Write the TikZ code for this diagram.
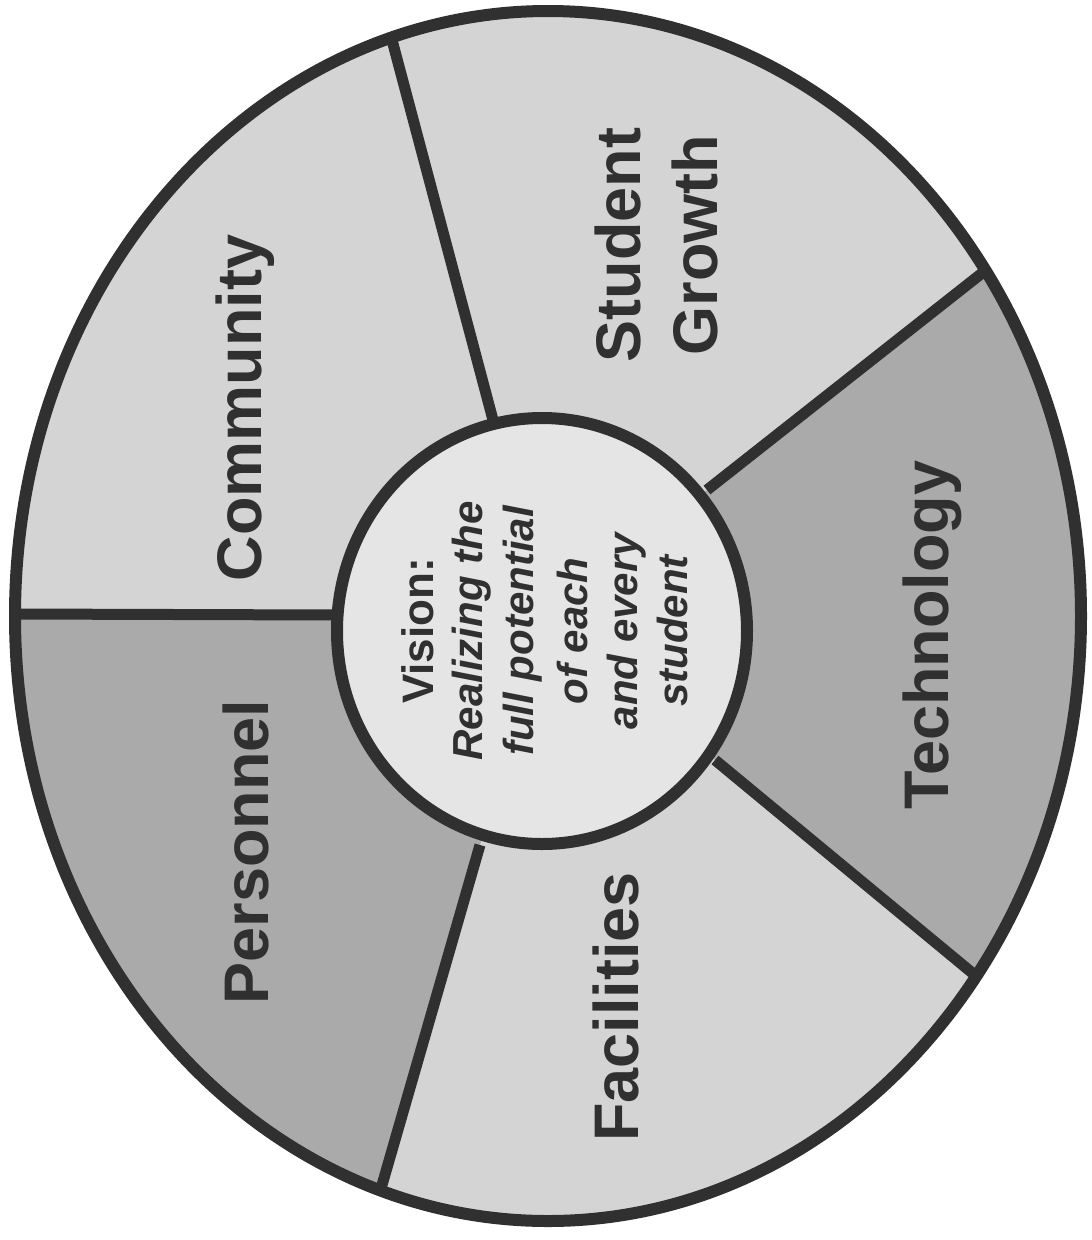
\documentclass[tikz,border=0pt]{standalone}
\usepackage{fontspec}
\setmainfont{Liberation Sans}
\definecolor{lightsec}{RGB}{212,212,212}
\definecolor{darksec}{RGB}{170,170,170}
\definecolor{innerfill}{RGB}{229,229,229}
\definecolor{ink}{RGB}{48,48,48}
\begin{document}
\begin{tikzpicture}[x=1pt,y=-1pt,
  border/.style={draw=ink, line width=12pt},
  divider/.style={draw=ink, line width=11pt},
  sectorlabel/.style={rotate=90, anchor=base, text=ink, inner sep=0pt,
    font=\bfseries\fontsize{63}{70}\selectfont},
  visiontitle/.style={rotate=90, anchor=base, text=ink, inner sep=0pt,
    font=\bfseries\fontsize{44}{50}\selectfont},
  visionline/.style={rotate=90, anchor=base, text=ink, inner sep=0pt,
    font=\bfseries\itshape\fontsize{42}{50}\selectfont}]
\useasboundingbox (0,0) rectangle (1092,1240);
\fill[white] (0,0) rectangle (1092,1240);

\coordinate (oc) at (548,616);
\coordinate (ic) at (542,631);

% sector fills
\fill[lightsec] (oc) ellipse [x radius=533pt, y radius=605pt];
\begin{scope}
  \clip (oc) ellipse [x radius=533pt, y radius=605pt];
  \fill[darksec] (-20,614) -- (337,615) -- (ic) -- (480,845) -- (350,1296) -- (-20,1296) -- cycle;
  \fill[darksec] (ic) -- (707,490) -- (1126,160) -- (1133,1106) -- (715,760) -- cycle;
\end{scope}

% dividers
\coordinate (topin) at (493,420);   \coordinate (topout) at (392,40);
\coordinate (urin) at (707,490);    \coordinate (urout) at (986,270);
\coordinate (lrin) at (715,760);    \coordinate (lrout) at (976,976);
\coordinate (botin) at (480,845);   \coordinate (botout) at (380,1192);
\coordinate (lin) at (337,615);     \coordinate (lout) at (15,614);
\draw[divider] (topin) -- (topout);
\draw[divider] (urin) -- (urout);
\draw[divider] (lrin) -- (lrout);
\draw[divider] (botin) -- (botout);
\draw[divider] (lin) -- (lout);

% hub and rim
\filldraw[fill=innerfill, border] (ic) ellipse [x radius=205pt, y radius=213pt];
\draw[border] (oc) ellipse [x radius=533pt, y radius=605pt];

% sector labels
\node[sectorlabel] (community) at (261,408) {Community};
\node[sectorlabel] (student) at (640,245) {Student};
\node[sectorlabel] (growth) at (717,245) {Growth};
\node[sectorlabel] (technology) at (948,635) {Technology};
\node[sectorlabel] (facilities) at (638,1007) {Facilities};
\node[sectorlabel] (personnel) at (268,852) {Personnel};

% vision text
\node[visiontitle] (v1) at (433,631) {Vision:};
\node[visionline] (v2) at (482,631) {Realizing the};
\node[visionline] (v3) at (533,631) {full potential};
\node[visionline] (v4) at (587,631) {of each};
\node[visionline] (v5) at (637,631) {and every};
\node[visionline] (v6) at (687,631) {student};
\end{tikzpicture}
\end{document}
